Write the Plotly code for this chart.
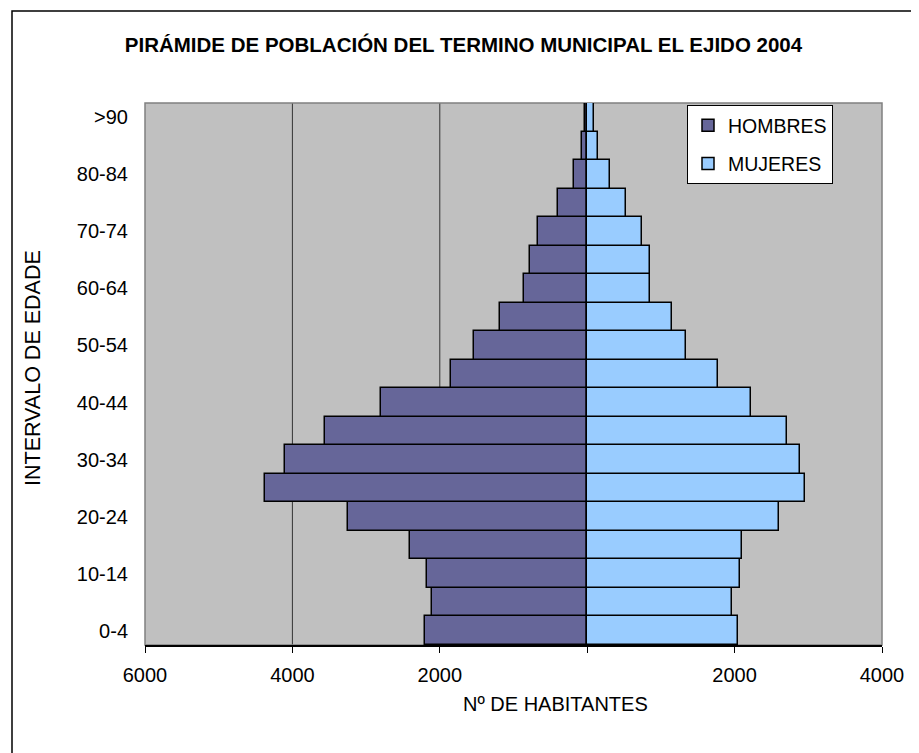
import plotly.graph_objects as go

age_groups = ["0-4", "5-9", "10-14", "15-19", "20-24", "25-29", "30-34", "35-39",
              "40-44", "45-49", "50-54", "55-59", "60-64", "65-69", "70-74",
              "75-79", "80-84", "85-89", ">90"]
hombres = [2207, 2112, 2180, 2410, 3252, 4366, 4094, 3564, 2804, 1853, 1541,
           1188, 862, 781, 672, 397, 183, 70, 30]
mujeres = [2044, 1962, 2071, 2098, 2600, 2954, 2886, 2709, 2220, 1772, 1338,
           1148, 849, 849, 740, 532, 306, 152, 88]
x_tick_values = [-6000, -4000, -2000, 0, 2000, 4000]
x_tick_labels = ["6000", "4000", "2000", "", "2000", "4000"]
y_tick_labels = age_groups[::2]
grid_values = [-4000, -2000]

FONT = "Liberation Sans, Arial, sans-serif"

# page has an 8px body margin, so figure is offset by (8, 8)
W, H = 911, 745
L, T, PW, PH = 137, 95, 737, 542

fig = go.Figure()
fig.add_trace(go.Bar(
    y=age_groups, x=[-v for v in hombres], orientation="h", name="HOMBRES",
    marker=dict(color="#666699", line=dict(color="black", width=1.5)),
    legendgroup="h",
))
fig.add_trace(go.Bar(
    y=age_groups, x=mujeres, orientation="h", name="MUJERES",
    marker=dict(color="#99CCFF", line=dict(color="black", width=1.5)),
    legendgroup="m",
))

shapes = []
for g in grid_values:
    shapes.append(dict(type="line", xref="x", yref="paper", x0=g, x1=g, y0=0, y1=1,
                       line=dict(color="#333333", width=1), layer="below"))
# plot-area border
shapes.append(dict(type="rect", xref="paper", yref="paper", x0=0, x1=1, y0=0, y1=1,
                   line=dict(color="#808080", width=1.5), layer="below"))
# outer chart frame
shapes.append(dict(type="rect", xref="paper", yref="paper",
                   x0=(12 - 145) / PW, x1=(940 - 145) / PW,
                   y0=(645 - 770) / PH, y1=(645 - 11) / PH,
                   line=dict(color="black", width=1.5), layer="above"))

fig.update_layout(
    width=W, height=H,
    margin=dict(l=L, r=W - L - PW, t=T, b=H - T - PH),
    paper_bgcolor="white", plot_bgcolor="#C0C0C0",
    barmode="relative", bargap=0,
    font=dict(family=FONT, size=20, color="black"),
    title=dict(text="<b>PIRÁMIDE DE POBLACIÓN DEL TERMINO MUNICIPAL EL EJIDO 2004</b>",
               x=0.5, xref="container", xanchor="center",
               y=1 - 37 / H, yref="container", yanchor="middle",
               font=dict(family=FONT, size=20.5, color="black")),
    xaxis=dict(range=[-6000, 4000], tickvals=x_tick_values, ticktext=x_tick_labels,
               ticks="outside", ticklen=6, tickcolor="black", tickwidth=1,
               showline=True, linecolor="black", linewidth=1.5,
               showgrid=False, zeroline=False, fixedrange=True,
               ticklabelstandoff=5,
               tickfont=dict(family=FONT, size=20)),
    yaxis=dict(categoryorder="array", categoryarray=age_groups,
               tickvals=y_tick_labels, ticktext=y_tick_labels,
               range=[-0.5, len(age_groups) - 0.5],
               ticks="", showgrid=False, zeroline=False, showline=False,
               ticklabelstandoff=16,
               tickfont=dict(family=FONT, size=20)),
    legend=dict(x=(687 - 145) / PW, y=(645 - 105) / PH, xanchor="left", yanchor="top",
                bgcolor="white", bordercolor="black", borderwidth=1,
                font=dict(family=FONT, size=19.5), traceorder="grouped",
                tracegroupgap=10, itemwidth=30),
    showlegend=True,
    shapes=shapes,
    annotations=[
        dict(text="Nº DE HABITANTES", xref="paper", yref="paper",
             x=(555 - 145) / PW, y=(645 - 704) / PH, xanchor="center", yanchor="middle",
             showarrow=False, font=dict(family=FONT, size=20, color="black")),
        dict(text="INTERVALO DE EDADE", xref="paper", yref="paper", textangle=-90,
             x=(33 - 145) / PW, y=(645 - 368) / PH, xanchor="center", yanchor="middle",
             showarrow=False, font=dict(family=FONT, size=21.5, color="black")),
    ],
)

fig.write_html("out.html")
